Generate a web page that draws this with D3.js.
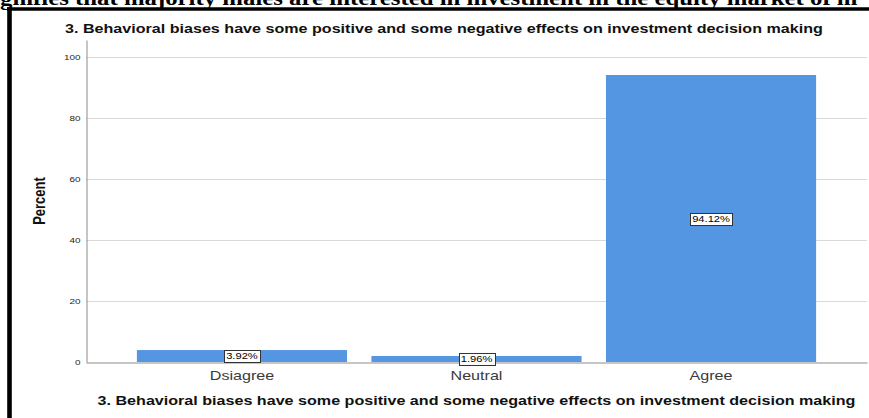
<!DOCTYPE html>
<html>
<head>
<meta charset="utf-8">
<script src="https://cdn.jsdelivr.net/npm/d3@7/dist/d3.min.js"></script>
<style>
  html, body { margin: 0; padding: 0; background: #ffffff; }
  svg { display: block; }
</style>
</head>
<body>
<svg id="chart" width="869" height="418"></svg>
<script>
// ---- data ----
const categories = ["Dsiagree", "Neutral", "Agree"];
const percents = [3.92, 1.96, 94.12];
const yTicks = [0, 20, 40, 60, 80, 100];
const chartTitle = "3. Behavioral biases have some positive and some negative effects on investment decision making";
const xAxisTitle = "3. Behavioral biases have some positive and some negative effects on investment decision making";
const yAxisTitle = "Percent";
const pageText = "gnifies that majority males are interested in investment in the equity market of m";

// ---- layout ----
const W = 869, H = 418;
const SX = 1.24;               // glyphs are drawn horizontally widened
const plot = { left: 86, right: 867, top: 40, bottom: 362 };
const sans = "'Liberation Sans', Arial, sans-serif";
const barColor = "#5596e2";

const svg = d3.select("#chart");

const x = d3.scaleBand()
  .domain(categories)
  .range([plot.left, plot.right])
  .paddingInner(0.104)
  .paddingOuter(0.217);

const y = d3.scaleLinear()
  .domain([0, 105.6])
  .range([plot.bottom, plot.top]);

// text helper: places a horizontally widened label
function wideText(parent, tx, ty, str, opts) {
  const t = parent.append("text")
    .attr("transform", `translate(${tx},${ty}) scale(${SX},1)` + (opts.rotate ? ` rotate(${opts.rotate})` : ""))
    .attr("font-family", opts.family || sans)
    .attr("font-size", opts.size)
    .attr("font-weight", opts.weight || "normal")
    .attr("fill", opts.fill || "#000")
    .attr("text-anchor", opts.anchor || "start")
    .text(str);
  if (opts.dy) t.attr("dy", opts.dy);
  return t;
}

// surrounding document line above the figure frame
wideText(svg, 0, 5, pageText, { family: "'Liberation Serif', 'Times New Roman', serif", size: 20, weight: "bold" });

// frame around the figure
svg.append("line").attr("x1", 7).attr("x2", W).attr("y1", 9).attr("y2", 9)
  .attr("stroke", "#000").attr("stroke-width", 3.6);
svg.append("line").attr("x1", 9.5).attr("x2", 9.5).attr("y1", 7.2).attr("y2", H)
  .attr("stroke", "#000").attr("stroke-width", 4.6);

// chart title
wideText(svg, 65, 33, chartTitle, { size: 13, weight: "bold", fill: "#111" });

// gridlines
svg.append("g")
  .selectAll("line")
  .data(yTicks.filter(d => d > 0))
  .join("line")
  .attr("x1", plot.left).attr("x2", plot.right)
  .attr("y1", d => Math.round(y(d)) + 0.5).attr("y2", d => Math.round(y(d)) + 0.5)
  .attr("stroke", "#d9d9d9").attr("stroke-width", 1);

// y axis built by d3, then restyled
const yAxis = svg.append("g")
  .attr("transform", `translate(${plot.left + 0.5},0)`)
  .call(d3.axisLeft(y).tickValues(yTicks).tickSize(0).tickPadding(6).tickFormat(d3.format("d")));
yAxis.select(".domain").attr("stroke", "#8c8c8c");
yAxis.selectAll(".tick text").each(function () {
  const node = d3.select(this);
  node.attr("font-family", sans).attr("font-size", 8).attr("fill", "#222")
    .attr("x", null).attr("dy", "0.36em")
    .attr("transform", `translate(-6,0) scale(${SX},1)`)
    .attr("text-anchor", "end");
});

// bars
svg.append("g")
  .selectAll("rect")
  .data(percents)
  .join("rect")
  .attr("x", (d, i) => x(categories[i]))
  .attr("width", x.bandwidth())
  .attr("y", d => y(d))
  .attr("height", d => y(0) - y(d))
  .attr("fill", barColor);

// x axis baseline and category labels
const xAxis = svg.append("g")
  .attr("transform", `translate(0,${plot.bottom + 0.5})`)
  .call(d3.axisBottom(x).tickSize(0).tickPadding(0));
xAxis.select(".domain").attr("stroke", "#8c8c8c");
xAxis.selectAll(".tick text").each(function () {
  d3.select(this).attr("font-family", sans).attr("font-size", 13).attr("fill", "#3a3a3a")
    .attr("y", null).attr("dy", null)
    .attr("transform", `translate(0,17.5) scale(${SX},1)`);
});

// value labels in boxes at bar mid-height
const fmt = d3.format(".2f");
const labels = svg.append("g");
percents.forEach((v, i) => {
  const cx = x(categories[i]) + x.bandwidth() / 2;
  const cy = (y(v) + y(0)) / 2;
  const g = labels.append("g");
  const rect = g.append("rect");
  const t = wideText(g, cx, cy, fmt(v) + "%", { size: 9, anchor: "middle", dy: "0.35em", fill: "#000" });
  const w = t.node().getComputedTextLength() * SX + 4;
  const h = 12;
  rect.attr("x", Math.round(cx - w / 2) + 0.5).attr("y", Math.round(cy - h / 2) + 0.5)
    .attr("width", Math.round(w)).attr("height", h)
    .attr("fill", "#fff").attr("stroke", "#333").attr("stroke-width", 1);
});

// axis titles
wideText(svg, (plot.left + plot.right) / 2, 404.5, xAxisTitle, { size: 13, weight: "bold", anchor: "middle", fill: "#111" });
wideText(svg, 45, (plot.top + plot.bottom) / 2, yAxisTitle, { size: 13, weight: "bold", anchor: "middle", rotate: -90, fill: "#111" });
</script>
</body>
</html>
